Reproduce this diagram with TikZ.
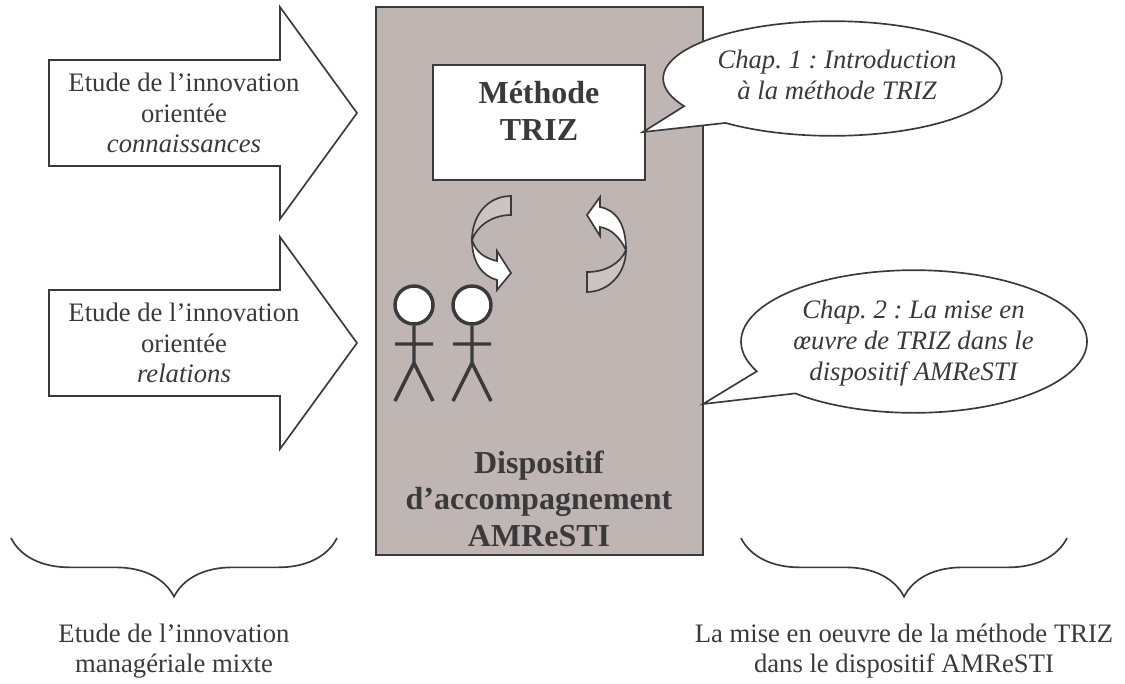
\documentclass[tikz,border=0pt]{standalone}
\usepackage{fontspec}
\setmainfont{Liberation Serif}
\usepackage{tikz}
\usetikzlibrary{positioning,shapes.callouts,decorations.pathreplacing}

\definecolor{inkgray}{HTML}{3A3A3C}
\definecolor{boxgray}{HTML}{BFB5B2}
\definecolor{lightgray}{HTML}{CBC4C1}

\begin{document}
\frenchspacing
\begin{tikzpicture}[x=0.75pt,y=-0.75pt,line width=1.25pt,draw=inkgray,text=inkgray,
                    every node/.style={align=center,font=\fontsize{20}{23}\selectfont}]
  \tikzstyle{bold text}=[font=\fontsize{24}{27.4}\selectfont\bfseries]
  \tikzstyle{bubble}=[ellipse callout,draw,fill=white,inner sep=0pt,callout pointer arc=22]
  \tikzstyle{bubble text}=[font=\fontsize{20}{23}\selectfont\itshape]
  \tikzstyle{bracket}=[decorate,decoration={brace,amplitude=44pt}]
  \tikzstyle{stick}=[line width=2.6pt]

  \useasboundingbox (0,0) rectangle (1125,683);

  % left arrows
  \draw[fill=white] (49,60) -- (280,60) -- (280,7) -- (357,113) -- (280,219) -- (280,166) -- (49,166) -- cycle;
  \draw[fill=white] (49,290) -- (280,290) -- (280,237) -- (357,343) -- (280,449) -- (280,396) -- (49,396) -- cycle;
  \node (conn) at (184,113) {Etude de l’innovation\\orientée\\\textit{connaissances}};
  \node (rel)  at (184,343) {Etude de l’innovation\\orientée\\\textit{relations}};

  % main box
  \node[draw,fill=boxgray,line width=1.5pt,minimum width=245.25pt,minimum height=411pt] (dispositif) at (539.5,281) {};
  \node[draw,fill=white,line width=1.5pt,minimum width=159pt,minimum height=86.25pt] (methode) at (539,122.5) {};
  \node[bold text] (methodelabel) at (539,111) {Méthode\\TRIZ};
  \node[bold text] (amresti) at (539,498.5) {Dispositif\\d’accompagnement\\AMReSTI};

  % the two turning arrows
  \draw[fill=lightgray] (511,196) .. controls (488,196) and (472,215) .. (472,240)
     .. controls (477,226) and (492,215) .. (511,215) -- cycle;
  \draw[fill=white] (472,240) .. controls (472,262) and (482,276) .. (497,280) -- (497,290) -- (511,273)
     -- (497,251) -- (497,261) .. controls (484,258) and (476,252) .. (472,240) -- cycle;
  \draw[fill=white] (587,215) -- (600,197) -- (600,207) .. controls (616,210) and (626,224) .. (626,250)
     .. controls (620,238) and (612,229) .. (600,227) -- (600,236) -- cycle;
  \draw[fill=lightgray] (626,250) .. controls (626,274) and (608,292) .. (587,292) -- (587,272)
     .. controls (605,272) and (620,264) .. (626,250) -- cycle;

  % people
  \node[circle,draw,fill=white,stick,minimum size=28.5pt,inner sep=0pt] (head1) at (414,305) {};
  \node[circle,draw,fill=white,stick,minimum size=28.5pt,inner sep=0pt] (head2) at (472,305) {};
  \coordinate (hip1) at (414,363);
  \coordinate (hip2) at (472,363);
  \draw[stick] (head1) -- (hip1) -- (395,401) (hip1) -- (433,401) (395,344) -- (433,344);
  \draw[stick] (head2) -- (hip2) -- (453,401) (hip2) -- (491,401) (453,344) -- (491,344);

  % bubbles
  \coordinate (tip1) at (643,132);
  \coordinate (tip2) at (703,404);
  \node[bubble,minimum width=254pt,minimum height=86pt,callout absolute pointer=(tip1)] (chap1) at (832.5,78.5) {};
  \node[bubble text] (chap1label) at (837,75) {Chap. 1 : Introduction\\à la méthode TRIZ};
  \node[bubble,minimum width=259.5pt,minimum height=107pt,callout absolute pointer=(tip2)] (chap2) at (914,341.5) {};
  \node[bubble text] (chap2label) at (913.5,343) {Chap. 2 : La mise en\\œuvre de TRIZ dans le\\dispositif AMReSTI};

  % braces and what they sum up
  \coordinate (l1) at (11,538);
  \coordinate (l2) at (337,538);
  \coordinate (r1) at (741,538);
  \coordinate (r2) at (1067,538);
  \draw[bracket] (l2) -- (l1);
  \draw[bracket] (r2) -- (r1);
  \node (mixte) at (174,651) {Etude de l’innovation\\managériale mixte};
  \node (miseenoeuvre) at (904,651) {La mise en oeuvre de la méthode TRIZ\\dans le dispositif AMReSTI};
\end{tikzpicture}
\end{document}
